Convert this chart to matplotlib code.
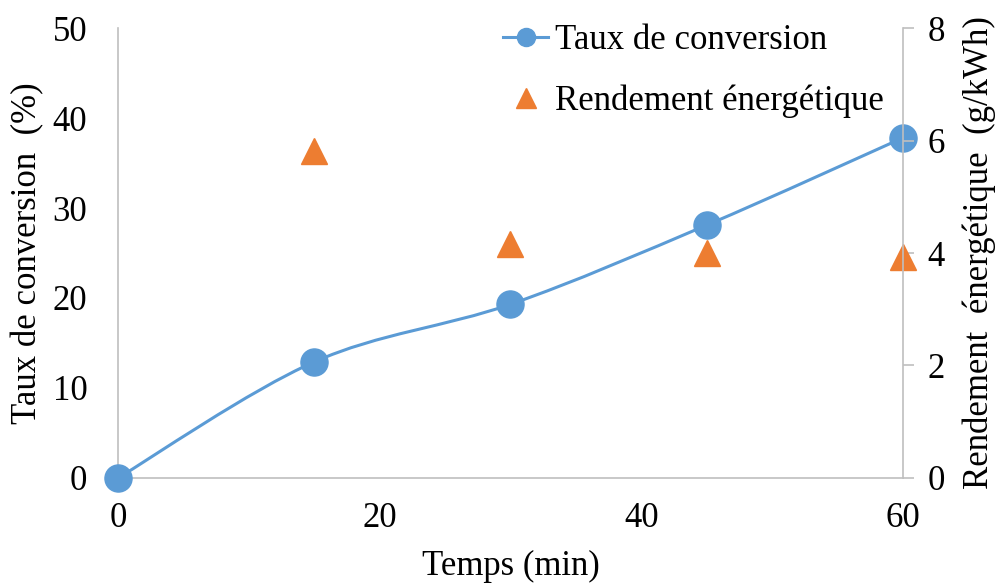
import numpy as np
import matplotlib.pyplot as plt
from matplotlib.path import Path
from matplotlib.patches import PathPatch

plt.rcParams['font.family'] = ['Liberation Serif', 'DejaVu Serif']

# data
temps = [0, 15, 30, 45, 60]
taux = [0.0, 12.9, 19.3, 28.1, 37.8]
temps_r = [15, 30, 45, 60]
rendement = [5.82, 4.16, 4.00, 3.93]

blue = '#5B9BD5'
orange = '#ED7D31'
grey = '#BFBFBF'
fs = 25


#-----------------------------------
def smooth_path(x, y):
    # excel-like smoothed line as cubic bezier segments
    x = np.asarray(x, float)
    y = np.asarray(y, float)
    n = len(x)
    verts = [(x[0], y[0])]
    codes = [Path.MOVETO]
    for i in range(n-1):
        i0 = max(i-1, 0)
        i3 = min(i+2, n-1)
        c1 = (x[i] + (x[i+1]-x[i0])/6.0, y[i] + (y[i+1]-y[i0])/6.0)
        c2 = (x[i+1] - (x[i3]-x[i])/6.0, y[i+1] - (y[i3]-y[i])/6.0)
        verts += [c1, c2, (x[i+1], y[i+1])]
        codes += [Path.CURVE4]*3
    return Path(verts, codes)

#-----------------------------------

fig = plt.figure(figsize=(9.96, 5.85), dpi=100)
ax = fig.add_axes([0.1185, 0.183, 0.788, 0.769])
ax2 = ax.twinx()

ax.add_patch(PathPatch(smooth_path(temps, taux), facecolor='none',
                       edgecolor=blue, lw=2.2, zorder=2))
ax.plot(temps, taux, color=blue, marker='o', ms=19.5, linestyle='None',
        zorder=3, clip_on=False)
h1, = ax.plot([], [], color=blue, lw=2.2, marker='o', ms=13)
ax2.plot(temps_r, rendement, linestyle='None', marker='^', ms=19,
         color=orange, clip_on=False)
h2, = ax2.plot([], [], linestyle='None', marker='^', ms=14.5, color=orange)

ax.set_xlim(0, 60)
ax.set_ylim(0, 50)
ax2.set_ylim(0, 8)
ax.set_xticks([0, 20, 40, 60])
ax.set_yticks([0, 10, 20, 30, 40, 50])
ax2.set_yticks([0, 2, 4, 6, 8])

for a in (ax, ax2):
    for s in a.spines.values():
        s.set_visible(False)
ax.spines['left'].set_visible(True)
ax.spines['bottom'].set_visible(True)
ax2.spines['right'].set_visible(True)
for s in (ax.spines['left'], ax.spines['bottom'], ax2.spines['right']):
    s.set_color(grey)
    s.set_linewidth(1.2)

ax.tick_params(axis='both', length=0, labelsize=fs)
ax.tick_params(axis='y', pad=22)
ax.tick_params(axis='x', pad=17)
ax2.tick_params(axis='y', length=8, width=1.2, color=grey, labelsize=fs, pad=10)

ax.set_xlabel('Temps (min)', fontsize=fs, labelpad=11)
ax.set_ylabel('Taux de conversion  (%)', fontsize=fs, labelpad=6)
ax2.set_ylabel('Rendement  énergétique  (g/kWh)', fontsize=fs, labelpad=12)

ax2.legend([h1, h2], ['Taux de conversion', 'Rendement énergétique'],
           loc='upper left', bbox_to_anchor=(0.505, 0.959),
           bbox_transform=fig.transFigure, frameon=False, fontsize=fs,
           borderpad=0, borderaxespad=0,
           handlelength=1.3, handletextpad=0.2, labelspacing=0.8)

plt.savefig('out.png', dpi=100)
